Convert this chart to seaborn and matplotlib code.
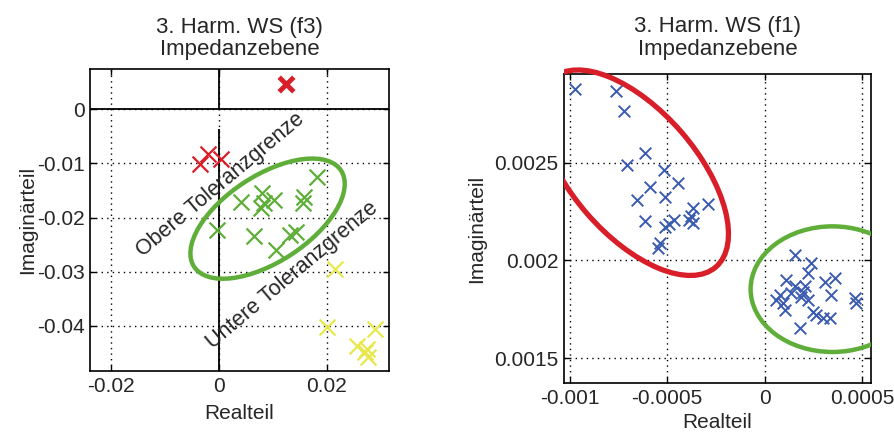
import numpy as np
import pandas as pd
import seaborn as sns
import matplotlib.pyplot as plt
from matplotlib.patches import Ellipse, Rectangle

# Left panel (f3): impedance points
f3_red_bold_x = [0.0124]
f3_red_bold_y = [0.0047]
f3_red_x = [-0.0035, -0.0020, 0.0004]
f3_red_y = [-0.0102, -0.0083, -0.0092]
f3_green_x = [0.0182, -0.0004, 0.0041, 0.0079, 0.0083, 0.0102, 0.0077,
              0.0157, 0.0155, 0.0065, 0.0132, 0.0142, 0.0105]
f3_green_y = [-0.0125, -0.0223, -0.0171, -0.0154, -0.0174, -0.0168, -0.0183,
              -0.0162, -0.0174, -0.0234, -0.0233, -0.0226, -0.0260]
f3_yellow_x = [0.0215, 0.0200, 0.0289, 0.0255, 0.0274, 0.0277, 0.0271]
f3_yellow_y = [-0.0294, -0.0402, -0.0405, -0.0436, -0.0442, -0.0457, -0.0448]

# Right panel (f1)
f1_x = [-0.000972, -0.000763, -0.000720, -0.000706, -0.000612, -0.000519,
        -0.000446, -0.000586, -0.000655, -0.000514, -0.000369, -0.000291,
        -0.000614, -0.000514, -0.000463, -0.000386, -0.000369, -0.000377,
        -0.000535, -0.000549, -0.000489,
        0.000154, 0.000240, 0.000223, 0.000111, 0.000077, 0.000094,
        0.000103, 0.000154, 0.000197, 0.000206, 0.000189, 0.000223,
        0.000309, 0.000360, 0.000343, 0.000266, 0.000300, 0.000334,
        0.000180, 0.000463, 0.000471, 0.000060, 0.000137, 0.000249]
f1_y = [0.002879, 0.002867, 0.002768, 0.002491, 0.002550, 0.002462,
        0.002397, 0.002379, 0.002311, 0.002328, 0.002268, 0.002291,
        0.002205, 0.002174, 0.002209, 0.002209, 0.002191, 0.002226,
        0.002089, 0.002063, 0.002188,
        0.002029, 0.001986, 0.001935, 0.001901, 0.001824, 0.001781,
        0.001747, 0.001867, 0.001841, 0.001867, 0.001815, 0.001798,
        0.001892, 0.001909, 0.001824, 0.001721, 0.001704, 0.001704,
        0.001653, 0.001807, 0.001781, 0.001798, 0.001833, 0.001738]

left_xticks = [-0.02, 0, 0.02]
left_xlabels = ["-0.02", "0", "0.02"]
left_yticks = [0, -0.01, -0.02, -0.03, -0.04]
left_ylabels = ["0", "-0.01", "-0.02", "-0.03", "-0.04"]
right_xticks = [-0.001, -0.0005, 0, 0.0005]
right_xlabels = ["-0.001", "-0.0005", "0", "0.0005"]
right_yticks = [0.0015, 0.002, 0.0025]
right_ylabels = ["0.0015", "0.002", "0.0025"]

RED = "#d81e28"
GREEN = "#5fae3a"
YELLOW = "#e8e84c"
BLUE = "#3a5bb0"

sns.set_style("white")
plt.rcParams["font.family"] = ["Liberation Sans", "DejaVu Sans"]
plt.rcParams["font.size"] = 15

fig = plt.figure(figsize=(8.95, 4.34), dpi=100)
ax1 = fig.add_axes([90 / 895, 63 / 434, 299 / 895, 302 / 434])
ax2 = fig.add_axes([564 / 895, 51 / 434, 307 / 895, 309 / 434])

# ---- left panel
sns.scatterplot(x=f3_green_x, y=f3_green_y, marker="x", s=130, color=GREEN,
                linewidth=1.6, ax=ax1, zorder=4)
sns.scatterplot(x=f3_yellow_x, y=f3_yellow_y, marker="x", s=130, color=YELLOW,
                linewidth=1.6, ax=ax1, zorder=4)
sns.scatterplot(x=f3_red_x, y=f3_red_y, marker="x", s=130, color=RED,
                linewidth=1.6, ax=ax1, zorder=4)
sns.scatterplot(x=f3_red_bold_x, y=f3_red_bold_y, marker="x", s=110, color=RED,
                linewidth=3.5, ax=ax1, zorder=4)

ax1.set_xlim(-0.0239, 0.0315)
ax1.set_ylim(-0.0483, 0.0074)
ax1.axhline(0, color="black", lw=1.3, zorder=2)
ax1.vlines([0, 0], [0, -0.0483], [0.0074, -0.0037], color="black", lw=1.3, zorder=2)
ax1.add_patch(Ellipse((0.0090, -0.0202), 0.0325, 0.0159, angle=33,
                      fill=False, ec=GREEN, lw=3.2, zorder=3))
ax1.text(0.0003, -0.0140, "Obere Toleranzgrenze", rotation=40, ha="center",
         va="center", fontsize=15.5, zorder=5)
ax1.text(0.0135, -0.0306, "Untere Toleranzgrenze", rotation=40, ha="center",
         va="center", fontsize=15.5, zorder=5)
ax1.set_xticks(left_xticks, left_xlabels)
ax1.set_yticks(left_yticks, left_ylabels)
ax1.set_xlabel("Realteil", labelpad=6)
ax1.set_ylabel("Imaginärteil", labelpad=0)
ax1.set_title("3. Harm. WS (f3)\nImpedanzebene", pad=10, fontsize=16,
              linespacing=1.1)

# ---- right panel
sns.scatterplot(x=f1_x, y=f1_y, marker="x", s=70, color=BLUE, linewidth=1.4,
                ax=ax2, zorder=4)
ax2.set_xlim(-0.00103, 0.000546)
ax2.set_ylim(0.001372, 0.002956)
clip = Rectangle((-0.00103, 0.0013), 0.01, 0.01, transform=ax2.transData)
red_ell = Ellipse((-0.00067, 0.00245), 0.00128, 0.00064, angle=-49,
                  fill=False, ec=RED, lw=3.8, zorder=3, clip_on=True)
ax2.add_patch(red_ell)
red_ell.set_clip_path(clip)
ax2.add_patch(Ellipse((0.000348, 0.001853), 0.00084, 0.000644, angle=0,
                      fill=False, ec=GREEN, lw=3.2, zorder=3))
ax2.set_xticks(right_xticks, right_xlabels)
ax2.set_yticks(right_yticks, right_ylabels)
ax2.set_xlabel("Realteil", labelpad=4)
ax2.set_ylabel("Imaginärteil", labelpad=6)
ax2.set_title("3. Harm. WS (f1)\nImpedanzebene", pad=14, fontsize=16,
              linespacing=1.1)

for ax in (ax1, ax2):
    ax.grid(True, color="black", linestyle=(0, (1, 3)), linewidth=1.0)
    ax.set_axisbelow(True)
    ax.tick_params(direction="in", length=4, width=1, color="black",
                   top=True, right=True, bottom=True, left=True, pad=4)
    for sp in ax.spines.values():
        sp.set_color("black")
        sp.set_linewidth(1.2)
        sp.set_visible(True)

fig.savefig("out.png", dpi=100, facecolor="white")
